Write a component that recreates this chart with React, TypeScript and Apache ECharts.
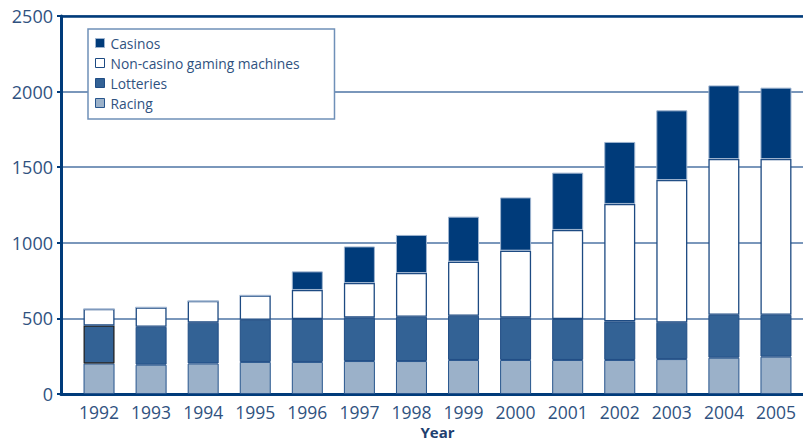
import React, { useEffect, useRef } from "react";
import * as echarts from "echarts";

const years = ["1992", "1993", "1994", "1995", "1996", "1997", "1998", "1999", "2000", "2001", "2002", "2003", "2004", "2005"];
const racing = [202, 194, 202, 212, 212, 218, 218, 225, 225, 225, 225, 231, 240, 247];
const lotteries = [250, 251, 270, 279, 284, 287, 293, 293, 280, 271, 255, 241, 284, 277];
const nonCasino = [110, 128, 143, 161, 192, 229, 289, 357, 443, 589, 777, 943, 1030, 1030];
const casinos = [0, 0, 0, 0, 123, 242, 252, 298, 352, 379, 410, 461, 487, 472];
const yTicks = { min: 0, max: 2500, interval: 500 };

const DARK = "#003b7a";
const TEXT = "#30527f";
const FONT = "'Open Sans', 'Noto Sans', sans-serif";

export default function App() {
  const ref = useRef<HTMLDivElement>(null);
  useEffect(() => {
    if (!ref.current) return;
    const chart = echarts.init(ref.current, undefined, { renderer: "svg" });
    const barW = 31;
    const lotData = lotteries.map((v, i) =>
      i === 0 ? { value: v, itemStyle: { borderColor: "#1a1a1a", borderWidth: 1.2 } } : v
    );
    chart.setOption({
      animation: false,
      backgroundColor: "#ffffff",
      textStyle: { fontFamily: FONT },
      grid: [
        { left: 61, right: 0, top: 16, bottom: 47, outerBoundsMode: "none", containLabel: false },
        { left: 73, right: 1, top: 16, bottom: 47, outerBoundsMode: "none", containLabel: false },
      ],
      legend: {
        orient: "vertical",
        left: 88,
        top: 29,
        padding: [7, 35, 9, 7],
        itemGap: 6,
        itemWidth: 9,
        itemHeight: 9,
        itemStyle: { borderWidth: 1 },
        borderColor: "#6f90b8",
        borderWidth: 1.5,
        backgroundColor: "#ffffff",
        icon: "rect",
        data: ["Casinos", "Non-casino gaming machines", "Lotteries", "Racing"],
        textStyle: { color: TEXT, fontSize: 13.8, fontFamily: FONT, lineHeight: 14, padding: [0, 0, 0, 1] },
      },
      xAxis: [
        {
          type: "value",
          gridIndex: 0,
          min: 0,
          max: 1,
          position: "bottom",
          axisLine: { show: true, lineStyle: { color: DARK, width: 3 } },
          axisTick: { show: false },
          axisLabel: { show: false },
          splitLine: { show: false },
        },
        {
          type: "value",
          gridIndex: 0,
          min: 0,
          max: 1,
          position: "top",
          axisLine: { show: true, lineStyle: { color: DARK, width: 2.5 } },
          axisTick: { show: false },
          axisLabel: { show: false },
          splitLine: { show: false },
        },
        {
          type: "category",
          gridIndex: 1,
          data: years,
          axisLine: { show: false },
          axisTick: { show: false },
          axisLabel: { color: TEXT, fontSize: 17.5, margin: 9, fontFamily: FONT, interval: 0, hideOverlap: false },
          name: "Year",
          nameLocation: "middle",
          nameGap: 30,
          nameMoveOverlap: false,
          nameTextStyle: { color: "#1f406f", fontSize: 15, lineHeight: 15, fontWeight: "bold", fontFamily: FONT },
        },
      ],
      yAxis: [
        {
          type: "value",
          gridIndex: 0,
          ...yTicks,
          axisLine: { show: true, lineStyle: { color: DARK, width: 3 } },
          axisTick: { show: true, length: 4, lineStyle: { color: DARK, width: 2 } },
          axisLabel: { color: TEXT, fontSize: 18, margin: 8, fontFamily: FONT, formatter: (v: number) => String(v) },
          splitLine: { show: true, lineStyle: { color: "#4e75a5", width: 1.5 } },
        },
        {
          type: "value",
          gridIndex: 1,
          ...yTicks,
          show: false,
          splitLine: { show: false },
        },
      ],
      series: [
        {
          name: "Racing",
          type: "bar",
          stack: "total",
          xAxisIndex: 2,
          yAxisIndex: 1,
          barWidth: barW,
          data: racing,
          itemStyle: { color: "#9bb1c9", borderColor: "#27558d", borderWidth: 1 },
        },
        {
          name: "Lotteries",
          type: "bar",
          stack: "total",
          xAxisIndex: 2,
          yAxisIndex: 1,
          barWidth: barW,
          data: lotData,
          itemStyle: { color: "#336295", borderColor: "#1f4c84", borderWidth: 1 },
        },
        {
          name: "Non-casino gaming machines",
          type: "bar",
          stack: "total",
          xAxisIndex: 2,
          yAxisIndex: 1,
          barWidth: barW,
          data: nonCasino,
          itemStyle: { color: "#ffffff", borderColor: "#1d4a82", borderWidth: 1.3 },
        },
        {
          name: "Casinos",
          type: "bar",
          stack: "total",
          xAxisIndex: 2,
          yAxisIndex: 1,
          barWidth: barW,
          data: casinos,
          itemStyle: { color: DARK, borderColor: "#9db3cf", borderWidth: 1 },
        },
      ],
    });
    return () => chart.dispose();
  }, []);
  return <div ref={ref} style={{ width: 803, height: 441, position: "absolute", left: 0, top: 0 }} />;
}
